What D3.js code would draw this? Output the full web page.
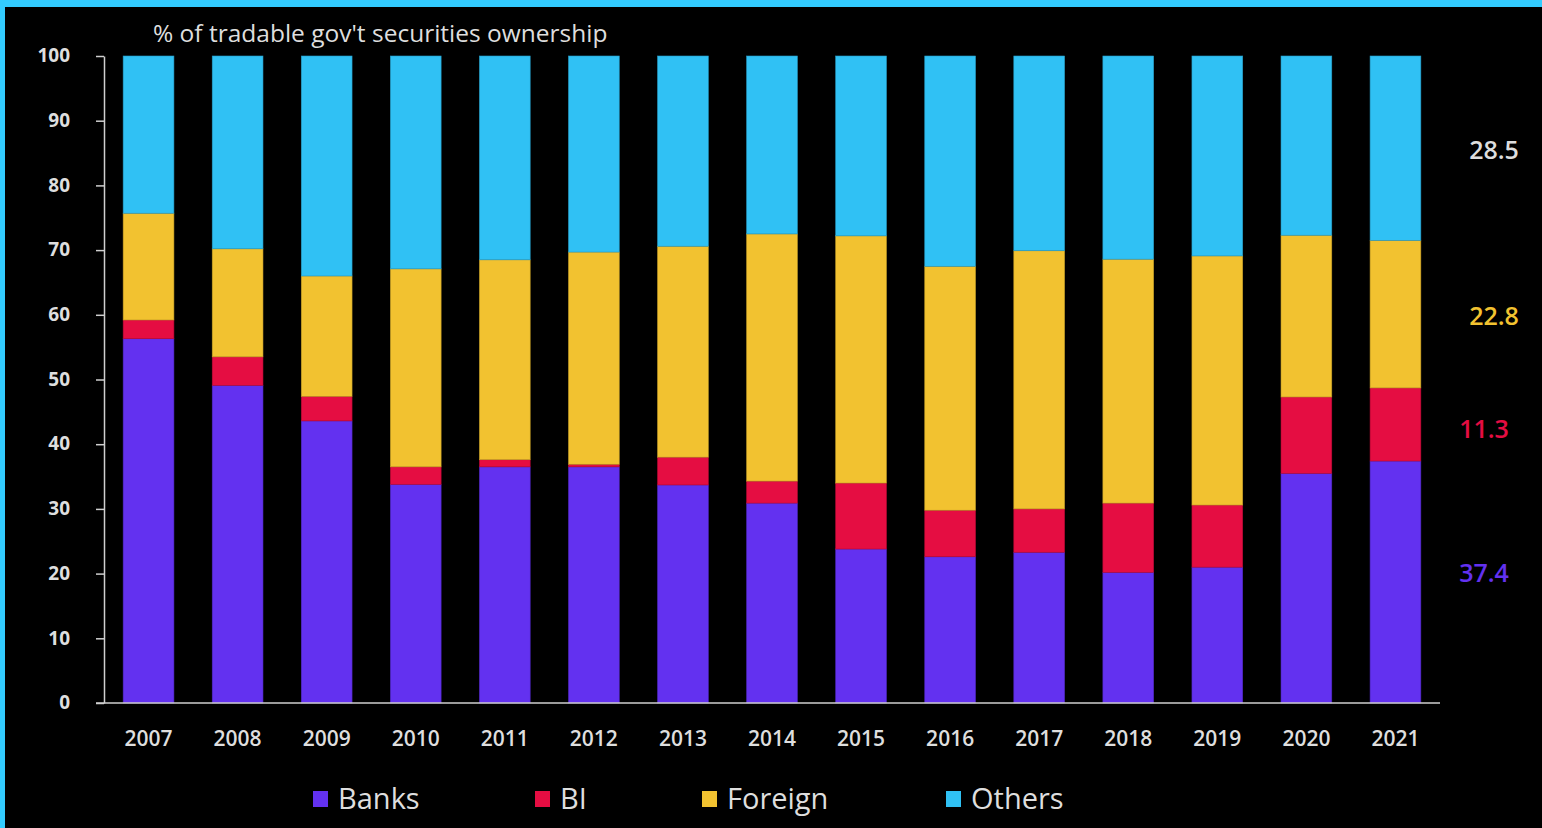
<!DOCTYPE html>
<html><head><meta charset="utf-8">
<script src="https://cdn.jsdelivr.net/npm/d3@7"></script>
<style>
html,body{margin:0;padding:0;background:#000;}
svg{display:block;}
</style></head>
<body>
<svg id="chart" width="1542" height="828"></svg>
<script>
const years = ["2007","2008","2009","2010","2011","2012","2013","2014","2015","2016","2017","2018","2019","2020","2021"];
const banks   = [56.3, 49.1, 43.6, 33.8, 36.5, 36.5, 33.7, 30.9, 23.8, 22.6, 23.3, 20.2, 21.0, 35.5, 37.4];
const bi      = [ 2.9,  4.4,  3.8,  2.7,  1.1,  0.4,  4.3,  3.4, 10.2,  7.2,  6.7, 10.7,  9.6, 11.8, 11.3];
const foreign = [16.5, 16.7, 18.6, 30.6, 30.9, 32.8, 32.6, 38.2, 38.2, 37.7, 39.9, 37.7, 38.5, 25.0, 22.8];
const others  = [24.3, 29.8, 34.0, 32.9, 31.5, 30.3, 29.4, 27.5, 27.8, 32.5, 30.1, 31.4, 30.9, 27.7, 28.5];
const seriesNames = ["Banks","BI","Foreign","Others"];
const yTicks = [0,10,20,30,40,50,60,70,80,90,100];
const lastLabels = ["37.4","11.3","22.8","28.5"];
const title = "% of tradable gov't securities ownership";

const colors = {Banks:"#6331F0", BI:"#E50D42", Foreign:"#F2C230", Others:"#30C1F4"};
const labelColors = {Banks:"#6331F0", BI:"#E50D42", Foreign:"#F2C230", Others:"#dddddd"};
const textCol = "#dedede";
const font = "'Open Sans', 'Noto Sans', sans-serif";

const svg = d3.select("#chart");
// frame
svg.append("rect").attr("x",0).attr("y",0).attr("width",1542).attr("height",828).attr("fill","#33CCFF");
svg.append("rect").attr("x",5).attr("y",7).attr("width",1537).attr("height",821).attr("fill","#000");

const rows = years.map((y,i)=>({year:y, Banks:banks[i], BI:bi[i], Foreign:foreign[i], Others:others[i]}));
const stack = d3.stack().keys(seriesNames)(rows);

const x = d3.scaleBand().domain(years).range([104,1440]).paddingInner(0.43).paddingOuter(0.215);
const y = d3.scaleLinear().domain([0,100]).range([703,56]);

// bars
svg.append("g").selectAll("g").data(stack).join("g")
  .attr("fill", d=>colors[d.key])
  .attr("stroke", d=>d3.color(colors[d.key]).darker(0.6))
  .attr("stroke-width",0.6)
  .selectAll("rect").data(d=>d).join("rect")
  .attr("x", d=>x(d.data.year))
  .attr("width", x.bandwidth())
  .attr("y", d=>y(Math.min(100,d[1])))
  .attr("height", d=>y(d[0]) - y(Math.min(100,d[1])));

// y axis
const yAxis = svg.append("g").attr("transform","translate(104,0)")
  .call(d3.axisLeft(y).tickValues(yTicks).tickSize(8).tickPadding(26).tickSizeOuter(0));
yAxis.select(".domain").attr("stroke","#cfcfcf").attr("stroke-width",1.5);
yAxis.selectAll(".tick line").attr("stroke","#cfcfcf").attr("stroke-width",1.5);
yAxis.selectAll(".tick text").attr("fill",textCol).attr("font-family",font)
  .attr("font-size",19).attr("font-weight","bold").attr("dy","0.3em");

// x axis
const xAxis = svg.append("g").attr("transform","translate(0,703)")
  .call(d3.axisBottom(x).tickSize(0).tickPadding(28).tickSizeOuter(0));
xAxis.select(".domain").attr("stroke","#cfcfcf").attr("stroke-width",1.5).attr("d","M96,0H1440");
xAxis.selectAll(".tick text").attr("fill",textCol).attr("font-family",font)
  .attr("font-size",21).attr("font-weight","600");

// title
svg.append("text").attr("x",153).attr("y",42).attr("fill",textCol)
  .attr("font-family",font).attr("font-size",24.5).text(title);

// right labels (last year's values)
const last = years.length-1;
const labelShift = [-9, 5, 2, 2];
stack.forEach((s,i)=>{
  const d = s[last];
  svg.append("text")
    .attr("x", i<2 ? 1484 : 1494)
    .attr("y", (y(d[0])+y(d[1]))/2 + labelShift[i] + 9)
    .attr("text-anchor","middle")
    .attr("fill", labelColors[s.key])
    .attr("font-family",font).attr("font-size",25).attr("font-weight","600")
    .text(lastLabels[i]);
});

// legend
const legendX = [313, 535, 702, 946];
const lg = svg.append("g");
seriesNames.forEach((n,i)=>{
  lg.append("rect").attr("x",legendX[i]).attr("y",791).attr("width",15).attr("height",16).attr("fill",colors[n]);
  lg.append("text").attr("x",legendX[i]+25).attr("y",809).attr("fill",textCol)
    .attr("font-family",font).attr("font-size",29).text(n);
});
</script>
</body></html>
